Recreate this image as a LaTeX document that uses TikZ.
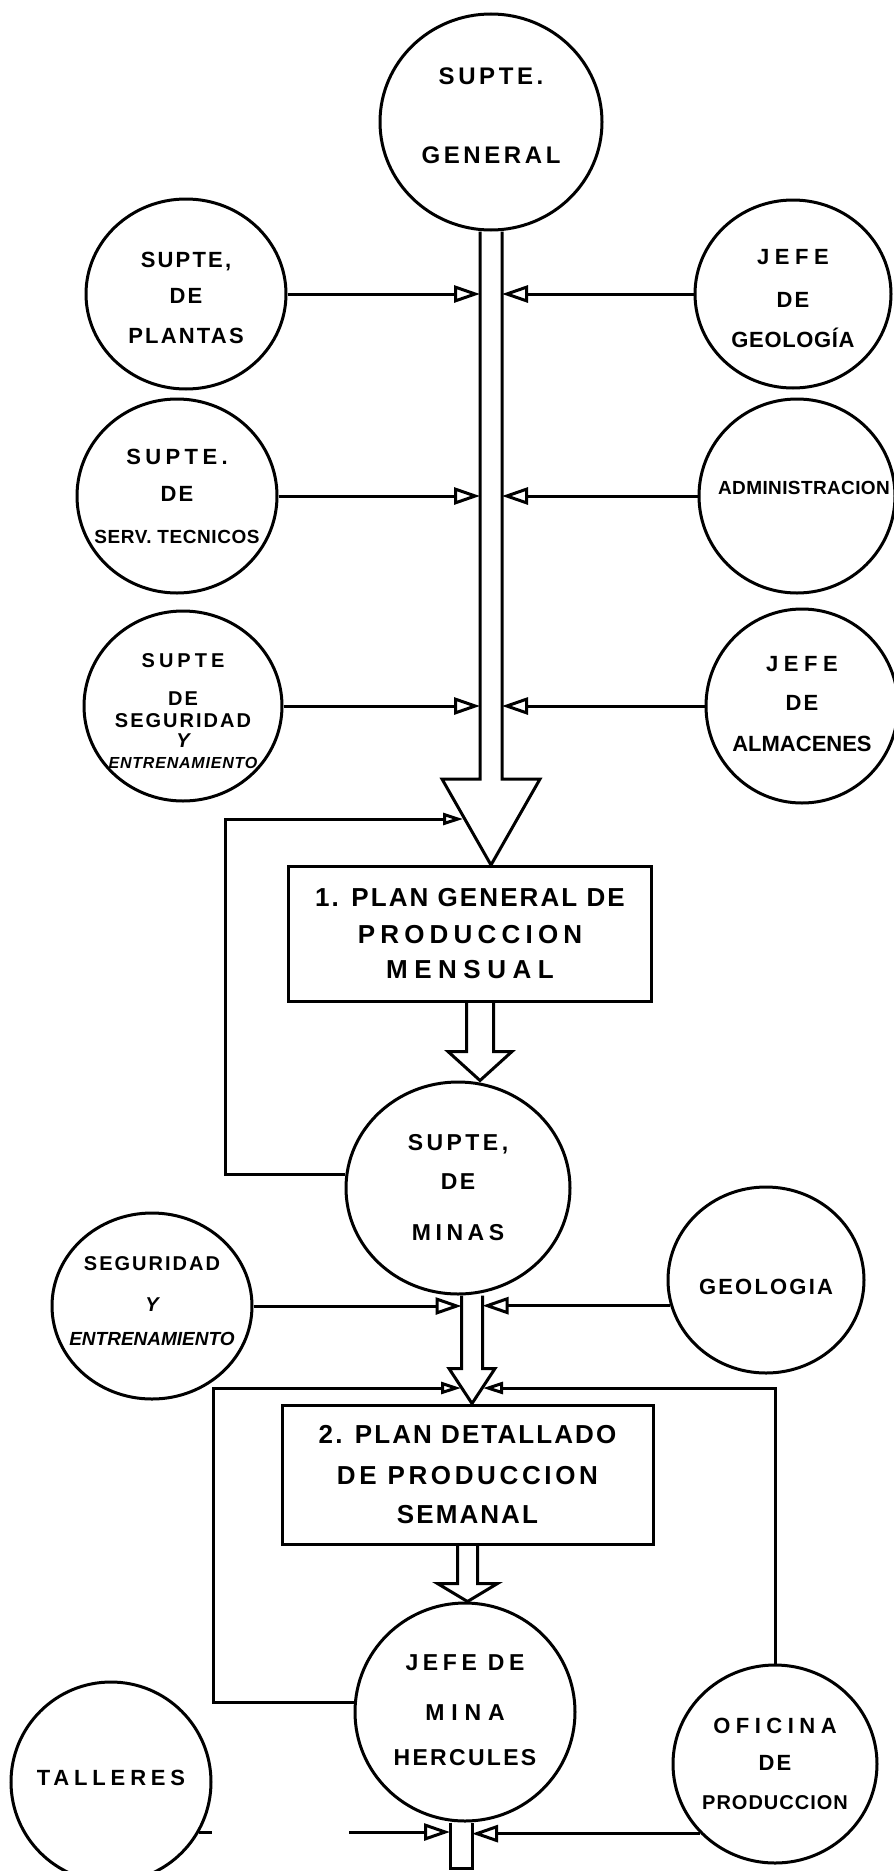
\documentclass[tikz,border=0pt]{standalone}
\usepackage{fontspec}
\setmainfont{Liberation Sans}[LetterSpace=10]
\usetikzlibrary{shapes.geometric, arrows.meta, calc}

\tikzset{
	orgunit/.style={draw, ellipse, line width=3pt, inner sep=0pt, minimum width=198pt, minimum height=190pt},
	lbl/.style={align=center, inner sep=0pt, font=\fontsize{22}{26}\selectfont\bfseries},
	planbox/.style={draw, rectangle, line width=3pt, align=center, inner sep=0pt, font=\fontsize{26}{31}\selectfont\bfseries\addfontfeature{LetterSpace=8}},
	feed/.style={line width=3pt, -{Triangle[open, length=26pt, width=17pt]}},
	loopback/.style={line width=3pt, -{Triangle[open, length=20pt, width=12pt]}},
	flow/.style={line width=3pt, line join=miter}
}

\newcommand{\blockarrow}[5]{%
	\draw[flow] let \p1=(#1), \p2=(#2) in
		(\x1-#3,\y1) -- (\x1-#3,\y2+#5) -- (\x1-#4,\y2+#5) -- (\x1,\y2)
		-- (\x1+#4,\y2+#5) -- (\x1+#3,\y2+#5) -- (\x1+#3,\y1);
}
\newcommand{\tight}[2]{{\addfontfeature{LetterSpace=#1}#2}}

\begin{document}
\begin{tikzpicture}[x=1pt, y=-1pt]

	\useasboundingbox (0,0) rectangle (894,1871);

	\node[orgunit, minimum width=222pt, minimum height=216pt,
		label={[lbl, yshift=6pt, font=\fontsize{24}{28}\selectfont\bfseries\addfontfeature{LetterSpace=15}]center:{SUPTE.\\[51pt]GENERAL}}] (gen) at (491,122) {};

	\node[orgunit, minimum width=200pt,
		label={[lbl, yshift=-4pt]center:{SUPTE,\\[10pt]DE\\[14pt]PLANTAS}}] (plantas) at (186,294) {};
	\node[orgunit, minimum width=196pt, minimum height=188pt,
		label={[lbl, yshift=-4.5pt]center:{\tight{25}{JEFE}\\[17pt]DE\\[14pt]\tight{3}{GEOLOGÍA}}}] (geologia) at (793,294) {};

	\node[orgunit, minimum width=200pt, minimum height=194pt,
		label={[lbl]center:{\tight{20}{SUPTE.}\\[11pt]DE\\[16pt]{\fontsize{19}{26}\selectfont\addfontfeature{LetterSpace=3}SERV. TECNICOS}}}] (servtec) at (177,496) {};
	\node[orgunit, minimum width=196pt, minimum height=194pt,
		label={[lbl, xshift=7pt, yshift=8pt, font=\fontsize{19}{24}\selectfont\bfseries\addfontfeature{LetterSpace=2}]center:{ADMINISTRACION}}] (admin) at (797,496) {};

	\node[orgunit,
		label={[lbl, yshift=-5.5pt, font=\fontsize{20}{23}\selectfont\bfseries]center:{\tight{20}{SUPTE}\\[15pt]DE\\[-1pt]SEGURIDAD\\[-3pt]{\itshape Y}\\[-2pt]{\itshape\fontsize{16}{23}\selectfont\addfontfeature{LetterSpace=5}ENTRENAMIENTO}}}] (segur1) at (183,706) {};
	\node[orgunit, minimum width=192pt, minimum height=194pt,
		label={[lbl, yshift=2pt]center:{\tight{25}{JEFE}\\[13pt]DE\\[15pt]\tight{0}{ALMACENES}}}] (almac) at (802,706) {};

	\node[planbox, minimum width=363pt, minimum height=135pt] (plan1) at (470,934)
		{1. PLAN GENERAL DE\\[6pt]\tight{20}{PRODUCCION}\\[4pt]\tight{25}{MENSUAL}};

	\node[orgunit, minimum width=224pt, minimum height=212pt,
		label={[lbl, font=\fontsize{23}{27}\selectfont\bfseries]center:{\tight{15}{SUPTE,}\\[12pt]DE\\[24pt]\tight{20}{MINAS}}}] (minas) at (458,1188) {};

	\node[orgunit, minimum width=200pt, minimum height=186pt,
		label={[lbl, yshift=4.5pt, font=\fontsize{20}{23}\selectfont\bfseries]center:{SEGURIDAD\\[18pt]{\itshape Y}\\[11pt]{\itshape\fontsize{19}{23}\selectfont\addfontfeature{LetterSpace=0}ENTRENAMIENTO}}}] (segur2) at (152,1306) {};
	\node[orgunit, minimum width=196pt, minimum height=186pt,
		label={[lbl, yshift=-7pt]center:{GEOLOGIA}}] (geo2) at (766,1280) {};

	\node[planbox, minimum width=371pt, minimum height=139pt] (plan2) at (467.5,1474.5)
		{2. PLAN DETALLADO\\[10.5pt]\tight{14}{DE PRODUCCION}\\[8pt]SEMANAL};

	\node[orgunit, minimum width=220pt, minimum height=218pt,
		label={[lbl, yshift=1.5pt, font=\fontsize{23}{27}\selectfont\bfseries]center:{\tight{20}{JEFE DE}\\[23pt]\tight{30}{MINA}\\[18pt]HERCULES}}] (jefe) at (465,1712) {};

	\node[orgunit, minimum width=200pt, minimum height=200pt,
		label={[lbl, yshift=4pt]center:{\tight{22}{TALLERES}}}] (talleres) at (111,1782) {};
	\node[orgunit, minimum width=204pt, minimum height=198pt,
		label={[lbl]center:{\tight{25}{OFICINA}\\[11pt]DE\\[13pt]{\fontsize{20}{26}\selectfont\addfontfeature{LetterSpace=5}PRODUCCION}}}] (oficina) at (775,1764) {};

	\coordinate (s1l) at (480,0);
	\coordinate (s1r) at (502,0);
	\coordinate (s3l) at (461.5,0);
	\coordinate (s3r) at (482.5,0);
	\coordinate (s5l) at (450,0);
	\coordinate (s5r) at (472,0);
	\coordinate (in1) at (463,819);
	\coordinate (in2l) at (461,1388);
	\coordinate (in2r) at (483,1388);
	\coordinate (tl) at (349,1832);

	\blockarrow{gen.south}{plan1.north}{11pt}{49pt}{86pt}
	\blockarrow{[xshift=10pt]plan1.south}{minas.north}{13.5pt}{32pt}{29pt}
	\blockarrow{[xshift=14pt]minas.south}{plan2.north}{10.5pt}{23pt}{35pt}
	\blockarrow{plan2.south}{jefe.north}{10pt}{30pt}{18pt}
	\draw[flow] ([xshift=-15pt]jefe.south) -- ++(0,46) -- ++(22,0) -- ++(0,-46);

	\draw[feed] (plantas.east) -- (plantas.east -| s1l);
	\draw[feed] (geologia.west) -- (geologia.west -| s1r);
	\draw[feed] (servtec.east) -- (servtec.east -| s1l);
	\draw[feed] (admin.west) -- (admin.west -| s1r);
	\draw[feed] (segur1.east) -- (segur1.east -| s1l);
	\draw[feed] (almac.west) -- (almac.west -| s1r);

	\draw[loopback] (minas.173) -- ++(-120,0) |- (in1);

	\draw[feed] (segur2.east) -- (segur2.east -| s3l);
	\draw[feed] (geo2.195) -- (geo2.195 -| s3r);

	\draw[loopback] (jefe.175) -- ++(-140,0) |- (in2l);
	\draw[loopback] (oficina.north) |- (in2r);

	\draw[flow] (talleres.-30) -- ++(13,0);
	\draw[feed] (tl) -- (tl -| s5l);
	\draw[feed] (oficina.223) -- (oficina.223 -| s5r);

\end{tikzpicture}
\end{document}
